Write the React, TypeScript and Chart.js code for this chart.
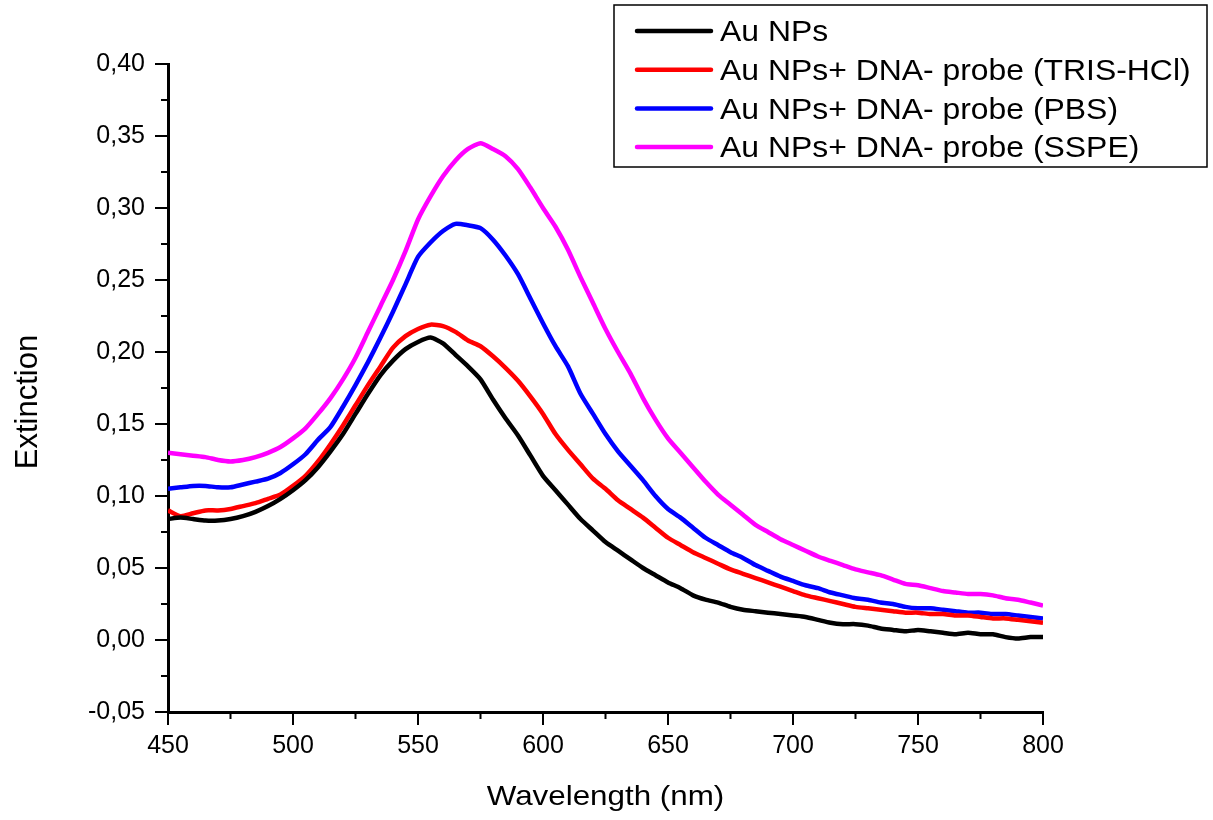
import React, { useEffect, useRef } from "react";
import { Chart, registerables } from "chart.js";

Chart.register(...registerables);

const wavelengths = [
  450, 455, 460, 465, 470, 475, 480, 485, 490, 495,
  500, 505, 510, 515, 520, 525, 530, 535, 540, 545,
  550, 555, 560, 565, 570, 575, 580, 585, 590, 595,
  600, 605, 610, 615, 620, 625, 630, 635, 640, 645,
  650, 655, 660, 665, 670, 675, 680, 685, 690, 695,
  700, 705, 710, 715, 720, 725, 730, 735, 740, 745,
  750, 755, 760, 765, 770, 775, 780, 785, 790, 795,
  800,
];

const auNPs = [
  0.084, 0.085, 0.084, 0.083, 0.083, 0.084, 0.086, 0.089, 0.093, 0.098,
  0.104, 0.111, 0.120, 0.131, 0.143, 0.157, 0.171, 0.184, 0.194, 0.202,
  0.207, 0.210, 0.206, 0.198, 0.190, 0.181, 0.167, 0.154, 0.142, 0.128,
  0.114, 0.104, 0.094, 0.084, 0.076, 0.068, 0.062, 0.056, 0.050, 0.045,
  0.040, 0.036, 0.031, 0.028, 0.026, 0.023, 0.021, 0.020, 0.019, 0.018,
  0.017, 0.016, 0.014, 0.012, 0.011, 0.011, 0.010, 0.008, 0.007, 0.006,
  0.007, 0.006, 0.005, 0.004, 0.005, 0.004, 0.004, 0.002, 0.001, 0.002,
  0.002,
];

const trisHCl = [
  0.090, 0.086, 0.088, 0.090, 0.090, 0.091, 0.093, 0.095, 0.098, 0.101,
  0.107, 0.114, 0.124, 0.136, 0.149, 0.163, 0.177, 0.190, 0.203, 0.211,
  0.216, 0.219, 0.218, 0.214, 0.208, 0.204, 0.197, 0.189, 0.180, 0.169,
  0.157, 0.143, 0.132, 0.122, 0.112, 0.105, 0.097, 0.091, 0.085, 0.078,
  0.071, 0.066, 0.061, 0.057, 0.053, 0.049, 0.046, 0.043, 0.040, 0.037,
  0.034, 0.031, 0.029, 0.027, 0.025, 0.023, 0.022, 0.021, 0.020, 0.019,
  0.019, 0.018, 0.018, 0.017, 0.017, 0.016, 0.015, 0.015, 0.014, 0.013,
  0.012,
];

const pbs = [
  0.105, 0.106, 0.107, 0.107, 0.106, 0.106, 0.108, 0.110, 0.112, 0.116,
  0.122, 0.129, 0.139, 0.148, 0.162, 0.177, 0.193, 0.210, 0.228, 0.247,
  0.266, 0.276, 0.284, 0.289, 0.288, 0.286, 0.278, 0.267, 0.254, 0.237,
  0.220, 0.204, 0.190, 0.171, 0.157, 0.143, 0.131, 0.121, 0.111, 0.100,
  0.091, 0.085, 0.078, 0.071, 0.066, 0.061, 0.057, 0.052, 0.048, 0.044,
  0.041, 0.038, 0.036, 0.033, 0.031, 0.029, 0.028, 0.026, 0.025, 0.023,
  0.022, 0.022, 0.021, 0.020, 0.019, 0.019, 0.018, 0.018, 0.017, 0.016,
  0.015,
];

const sspe = [
  0.130, 0.129, 0.128, 0.127, 0.125, 0.124, 0.125, 0.127, 0.130, 0.134,
  0.140, 0.147, 0.157, 0.168, 0.181, 0.196, 0.214, 0.232, 0.250, 0.270,
  0.292, 0.308, 0.322, 0.333, 0.341, 0.345, 0.341, 0.336, 0.327, 0.314,
  0.300, 0.287, 0.271, 0.252, 0.234, 0.216, 0.200, 0.185, 0.168, 0.153,
  0.140, 0.130, 0.120, 0.110, 0.101, 0.094, 0.087, 0.080, 0.075, 0.070,
  0.066, 0.062, 0.058, 0.055, 0.052, 0.049, 0.047, 0.045, 0.042, 0.039,
  0.038, 0.036, 0.034, 0.033, 0.032, 0.032, 0.031, 0.029, 0.028, 0.026,
  0.024,
];

const seriesNames = [
  "Au NPs",
  "Au NPs+ DNA- probe (TRIS-HCl)",
  "Au NPs+ DNA- probe (PBS)",
  "Au NPs+ DNA- probe (SSPE)",
];
const seriesColors = ["#000000", "#ff0000", "#0000ff", "#ff00ff"];

const xMinorTicks = [475, 525, 575, 625, 675, 725, 775];
const yMinorTicks = [-0.025, 0.025, 0.075, 0.125, 0.175, 0.225, 0.275, 0.325, 0.375];

const xTitle = "Wavelength (nm)";
const yTitle = "Extinction";

const FONT = '"Liberation Sans", Arial, Helvetica, sans-serif';

export default function App() {
  const ref = useRef<HTMLCanvasElement>(null);

  useEffect(() => {
    const canvas = ref.current;
    if (!canvas) return;
    const series = [auNPs, trisHCl, pbs, sspe];
    const datasets = series.map((vals, i) => ({
      label: seriesNames[i],
      data: wavelengths.map((w, j) => ({ x: w, y: vals[j] })),
      borderColor: seriesColors[i],
      backgroundColor: seriesColors[i],
      borderWidth: 4.5,
      pointRadius: 0,
      tension: 0.2,
      fill: false,
    }));

    const decor = {
      id: "decor",
      afterDraw(chart: any) {
        const ctx = chart.ctx as CanvasRenderingContext2D;
        const xs = chart.scales.x;
        const ys = chart.scales.y;
        const area = chart.chartArea;
        ctx.save();
        // minor ticks
        ctx.strokeStyle = "#000";
        ctx.lineWidth = 2;
        ctx.beginPath();
        xMinorTicks.forEach((v) => {
          const px = xs.getPixelForValue(v);
          ctx.moveTo(px, area.bottom);
          ctx.lineTo(px, area.bottom + 7);
        });
        yMinorTicks.forEach((v) => {
          const py = ys.getPixelForValue(v);
          ctx.moveTo(area.left, py);
          ctx.lineTo(area.left - 7, py);
        });
        ctx.stroke();

        // legend box
        ctx.fillStyle = "#fff";
        ctx.fillRect(614, 5, 593, 162);
        ctx.lineWidth = 1.5;
        ctx.strokeStyle = "#000";
        ctx.strokeRect(614, 5, 593, 162);
        seriesNames.forEach((name, i) => {
          const cy = 31 + i * 38.7;
          ctx.strokeStyle = seriesColors[i];
          ctx.lineWidth = 4.5;
          ctx.lineCap = "round";
          ctx.beginPath();
          ctx.moveTo(637, cy);
          ctx.lineTo(711, cy);
          ctx.stroke();
          ctx.save();
          ctx.translate(720, cy + 10.3);
          ctx.scale(1.1, 1);
          ctx.fillStyle = "#000";
          ctx.font = `29px ${FONT}`;
          ctx.textAlign = "left";
          ctx.textBaseline = "alphabetic";
          ctx.fillText(name, 0, 0);
          ctx.restore();
        });

        // axis titles
        ctx.fillStyle = "#000";
        ctx.save();
        ctx.translate(605.5, 805);
        ctx.scale(1.12, 1);
        ctx.font = `28px ${FONT}`;
        ctx.textAlign = "center";
        ctx.textBaseline = "alphabetic";
        ctx.fillText(xTitle, 0, 0);
        ctx.restore();

        ctx.save();
        ctx.translate(37, 402);
        ctx.rotate(-Math.PI / 2);
        ctx.font = `31px ${FONT}`;
        ctx.textAlign = "center";
        ctx.textBaseline = "alphabetic";
        ctx.fillText(yTitle, 0, 0);
        ctx.restore();

        ctx.restore();
      },
    };

    const chart = new Chart(canvas, {
      type: "line",
      data: { datasets },
      plugins: [decor],
      options: {
        animation: false,
        responsive: false,
        events: [],
        layout: { padding: { top: 64, right: 170, left: 0, bottom: 0 } },
        plugins: {
          legend: { display: false },
          tooltip: { enabled: false },
          title: { display: false },
        },
        scales: {
          x: {
            type: "linear",
            min: 450,
            max: 800,
            afterFit: (scale: any) => {
              scale.height = 108;
            },
            ticks: {
              stepSize: 50,
              color: "#000",
              font: { family: FONT, size: 25 },
              padding: 6,
              maxRotation: 0,
            },
            grid: {
              display: true,
              drawOnChartArea: false,
              drawTicks: true,
              tickLength: 13,
              lineWidth: 2,
              color: "#000",
            },
            border: { display: true, width: 3, color: "#000" },
          },
          y: {
            type: "linear",
            min: -0.05,
            max: 0.4,
            afterFit: (scale: any) => {
              scale.width = 168;
            },
            ticks: {
              stepSize: 0.05,
              color: "#000",
              font: { family: FONT, size: 25 },
              padding: 10,
              callback: (v: any) => Number(v).toFixed(2).replace(".", ","),
            },
            grid: {
              display: true,
              drawOnChartArea: false,
              drawTicks: true,
              tickLength: 13,
              lineWidth: 2,
              color: "#000",
            },
            border: { display: true, width: 3, color: "#000" },
          },
        },
      },
    });
    return () => chart.destroy();
  }, []);

  return (
    <div
      style={{
        position: "fixed",
        left: 0,
        top: 0,
        width: 1213,
        height: 820,
        background: "#fff",
      }}
    >
      <canvas ref={ref} width={1213} height={820} style={{ display: "block" }} />
    </div>
  );
}
